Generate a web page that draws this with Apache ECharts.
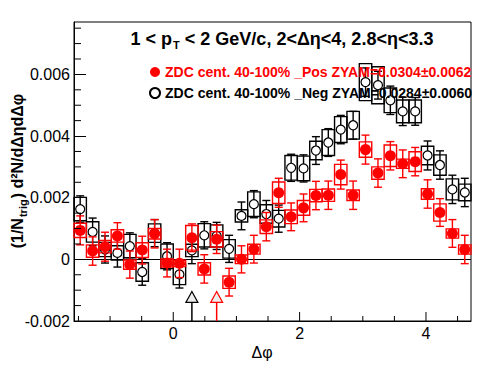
<!DOCTYPE html>
<html>
<head>
<meta charset="utf-8">
<script src="https://cdn.jsdelivr.net/npm/echarts@6/dist/echarts.min.js"></script>
<style>html,body{margin:0;padding:0;background:#fff;}#c{width:496px;height:374px;}</style>
</head>
<body>
<div id="c"></div>
<script>
// ---- data ----
const binCenters = [-1.473,-1.276,-1.080,-0.884,-0.687,-0.491,-0.295,-0.098,0.098,0.295,0.491,0.687,0.884,1.080,1.276,1.473,
                    1.669,1.866,2.062,2.258,2.454,2.651,2.847,3.043,3.240,3.436,3.632,3.829,4.025,4.221,4.418,4.614];
const binWidth = 0.19635;
const posValues = [0.00094,0.00027,0.00041,0.00076,-0.00017,0.00030,0.00083,-0.00012,-0.00013,0.00070,-0.00031,0.00065,-0.00074,0.00000,0.00033,0.00106,
                   0.00216,0.00138,0.00167,0.00207,0.00208,0.00275,0.00208,0.00356,0.00280,0.00336,0.00310,0.00317,0.00212,0.00152,0.00084,0.00032];
const posStat = [0.00047,0.00046,0.00047,0.00043,0.00044,0.00045,0.00046,0.00045,0.00046,0.00045,0.00046,0.00046,0.00045,0.00044,0.00045,0.00046,
                 0.00047,0.00045,0.00045,0.00046,0.00046,0.00047,0.00046,0.00047,0.00046,0.00046,0.00045,0.00046,0.00046,0.00045,0.00045,0.00046];
const posSys = [0.00023,0.00020,0.00020,0.00020,0.00015,0.00024,0.00017,0.00013,0.00010,0.00040,0.00020,0.00025,0.00020,0.00014,0.00016,0.00022,
                0.00035,0.00022,0.00024,0.00020,0.00020,0.00033,0.00017,0.00025,0.00020,0.00035,0.00015,0.00032,0.00017,0.00028,0.00015,0.00015];
const negValues = [0.00163,0.00089,0.00032,0.00021,0.00043,-0.00041,0.00085,0.00010,-0.00049,0.00029,0.00078,0.00076,0.00034,0.00141,0.00179,0.00147,
                   0.00132,0.00297,0.00295,0.00353,0.00379,0.00421,0.00435,0.00575,0.00565,0.00516,0.00480,0.00480,0.00337,0.00306,0.00227,0.00217];
const negStat = [0.00043,0.00045,0.00044,0.00046,0.00043,0.00043,0.00044,0.00044,0.00044,0.00043,0.00044,0.00044,0.00044,0.00045,0.00044,0.00044,
                 0.00044,0.00044,0.00044,0.00045,0.00045,0.00046,0.00045,0.00046,0.00045,0.00046,0.00046,0.00045,0.00047,0.00046,0.00046,0.00046];
const negSys = [0.00038,0.00033,0.00023,0.00023,0.00038,0.00030,0.00030,0.00040,0.00033,0.00020,0.00038,0.00036,0.00030,0.00020,0.00040,0.00030,
                0.00027,0.00040,0.00040,0.00030,0.00042,0.00042,0.00045,0.00060,0.00060,0.00040,0.00037,0.00037,0.00030,0.00033,0.00034,0.00027];
const posLabel = 'ZDC cent. 40-100% _Pos ZYAM=0.0304\u00b10.0062';
const negLabel = 'ZDC cent. 40-100% _Neg ZYAM=0.0284\u00b10.0060';
const arrowX = [0.295, 0.687];      // Neg, Pos
const arrowY = [-0.00122, -0.00122];
const xMajorTicks = [0, 2, 4];
const xTickLabels = ['0', '2', '4'];
const xMinorTicks = [-1.5,-1,-0.5,0.5,1,1.5,2.5,3,3.5,4.5];
const yMinorTicks = [-0.0015,-0.001,-0.0005,0.0005,0.001,0.0015,0.0025,0.003,0.0035,0.0045,0.005,0.0055,0.0065,0.007,0.0075];

// ---- chart ----
const XMIN = -Math.PI / 2, XMAX = 3 * Math.PI / 2, YMIN = -0.002, YMAX = 0.0077;
const FONT = '"Liberation Sans", Arial, Helvetica, sans-serif';
const RED = '#ff0000', BLACK = '#000000';

function boxRenderer(color) {
  return function (params, api) {
    const x = api.value(0), v = api.value(1), s = api.value(2);
    const a = api.coord([x - binWidth / 2, v + s]);
    const b = api.coord([x + binWidth / 2, v - s]);
    return { type: 'rect', shape: { x: a[0], y: a[1], width: b[0] - a[0], height: b[1] - a[1] },
             style: { fill: 'none', stroke: color, lineWidth: 1.4 } };
  };
}
function errRenderer(color) {
  return function (params, api) {
    const x = api.value(0), v = api.value(1), e = api.value(2);
    const t = api.coord([x, v + e]);
    const b = api.coord([x, v - e]);
    const cap = 4, st = { stroke: color, lineWidth: 1.4 };
    return { type: 'group', children: [
      { type: 'line', shape: { x1: t[0], y1: t[1], x2: b[0], y2: b[1] }, style: st },
      { type: 'line', shape: { x1: t[0] - cap, y1: t[1], x2: t[0] + cap, y2: t[1] }, style: st },
      { type: 'line', shape: { x1: b[0] - cap, y1: b[1], x2: b[0] + cap, y2: b[1] }, style: st }
    ]};
  };
}
function triples(vals, errs) { return binCenters.map((x, i) => [x, vals[i], errs[i]]); }

const arrowColors = [BLACK, RED];

const option = {
  animation: false,
  backgroundColor: '#fff',
  grid: { left: 74, right: 25, top: 22, bottom: 53, show: true, borderColor: '#000', borderWidth: 1, backgroundColor: 'transparent' },
  xAxis: { type: 'value', min: XMIN, max: XMAX,
    axisLine: { show: true, onZero: false, lineStyle: { color: '#000', width: 1 } },
    axisTick: { show: false }, axisLabel: { show: false }, splitLine: { show: false } },
  yAxis: { type: 'value', min: YMIN, max: YMAX, interval: 0.002,
    axisLine: { show: true, onZero: false, lineStyle: { color: '#000', width: 1 } },
    axisTick: { show: true, inside: true, length: 12, lineStyle: { color: '#000', width: 1 } },
    axisLabel: { show: true, margin: 4, showMaxLabel: false, color: '#000', fontSize: 16, fontFamily: FONT,
      formatter: v => String(+v.toFixed(4)) },
    splitLine: { show: false } },
  legend: {
    left: 144, top: 60, orient: 'vertical', itemGap: 7, itemWidth: 10, itemHeight: 10, selectedMode: false,
    textStyle: { fontSize: 14, fontWeight: 'bold', fontFamily: FONT },
    data: [
      { name: posLabel, icon: 'circle', textStyle: { color: RED } },
      { name: negLabel, icon: 'circle', textStyle: { color: BLACK } }
    ]
  },
  graphic: [
    { type: 'text', x: 282, y: 39, z: 100,
      style: { text: '{a|1 < p}{s|T}{a| < 2 GeV/c, 2<\u0394\u03b7<4, 2.8<\u03b7<3.3}', align: 'center', verticalAlign: 'middle',
        rich: { a: { fontSize: 18, fontWeight: 'bold', fontFamily: FONT, fill: '#000' },
                s: { fontSize: 11, fontWeight: 'bold', fontFamily: FONT, fill: '#000', padding: [12, 0, 0, 1] } } } },
    { type: 'text', x: 17, y: 171, rotation: Math.PI / 2, z: 100,
      style: { text: '{a|(1/N}{s|trig}{a|) d\u00b2N/d\u0394\u03b7d\u0394\u03c6}', align: 'center', verticalAlign: 'middle',
        rich: { a: { fontSize: 16, fontWeight: 'bold', fontFamily: FONT, fill: '#000' },
                s: { fontSize: 11, fontWeight: 'bold', fontFamily: FONT, fill: '#000', padding: [12, 1, 0, 1] } } } },
    { type: 'text', x: 262, y: 352, z: 100,
      style: { text: '\u0394\u03c6', align: 'center', verticalAlign: 'middle', fontSize: 16, fontFamily: FONT, fill: '#000' } }
  ],
  series: [
    { type: 'custom', name: 'negSys', z: 2, renderItem: boxRenderer(BLACK), encode: { x: 0, y: 1 }, data: triples(negValues, negSys) },
    { type: 'custom', name: 'negErr', z: 2, renderItem: errRenderer(BLACK), encode: { x: 0, y: 1 }, data: triples(negValues, negStat) },
    { type: 'scatter', name: negLabel, z: 3, symbol: 'circle', symbolSize: 9,
      itemStyle: { color: '#fff', borderColor: BLACK, borderWidth: 1.2, opacity: 1 },
      data: binCenters.map((x, i) => [x, negValues[i]]) },
    { type: 'custom', name: 'posSys', z: 4, renderItem: boxRenderer(RED), encode: { x: 0, y: 1 }, data: triples(posValues, posSys) },
    { type: 'custom', name: 'posErr', z: 4, renderItem: errRenderer(RED), encode: { x: 0, y: 1 }, data: triples(posValues, posStat) },
    { type: 'scatter', name: posLabel, z: 5, symbol: 'circle', symbolSize: 11,
      itemStyle: { color: RED, opacity: 1 },
      markLine: { silent: true, symbol: 'none', label: { show: false }, z: 1,
        lineStyle: { color: '#000', width: 1, type: 'solid' }, data: [{ yAxis: 0 }] },
      data: binCenters.map((x, i) => [x, posValues[i]]) },
    { type: 'custom', name: 'arrows', z: 6, encode: { x: 0, y: 1 },
      data: arrowX.map((x, i) => [x, arrowY[i]]),
      renderItem: function (params, api) {
        const p = api.coord([api.value(0), api.value(1)]);
        const b = api.coord([api.value(0), YMIN]);
        const c = arrowColors[params.dataIndex];
        return { type: 'group', children: [
          { type: 'line', shape: { x1: p[0], y1: p[1] + 5.5, x2: b[0], y2: b[1] }, style: { stroke: c, lineWidth: 1.5 } },
          { type: 'polygon', shape: { points: [[p[0], p[1] - 5.5], [p[0] - 6, p[1] + 5.5], [p[0] + 6, p[1] + 5.5]] },
            style: { fill: '#eeeeee', stroke: c, lineWidth: 1.2 } }
        ]};
      } },
    { type: 'custom', name: 'xTicks', z: 7, encode: { x: 0, y: 1 }, silent: true,
      data: xMajorTicks.map(v => [v, YMIN, 1]).concat(xMinorTicks.map(v => [v, YMIN, 0])),
      renderItem: function (params, api) {
        const p = api.coord([api.value(0), api.value(1)]);
        const major = api.value(2) === 1;
        const len = major ? 9 : 5;
        const ch = [{ type: 'line', shape: { x1: p[0], y1: p[1], x2: p[0], y2: p[1] - len }, style: { stroke: '#000', lineWidth: 1 } }];
        if (major) {
          ch.push({ type: 'text', x: p[0], y: p[1] + 4,
            style: { text: xTickLabels[params.dataIndex], align: 'center', verticalAlign: 'top', fontSize: 16, fontFamily: FONT, fill: '#000' } });
        }
        return { type: 'group', children: ch };
      } },
    { type: 'custom', name: 'yMinor', z: 7, encode: { x: 0, y: 1 }, silent: true,
      data: yMinorTicks.map(v => [XMIN, v]),
      renderItem: function (params, api) {
        const p = api.coord([api.value(0), api.value(1)]);
        return { type: 'line', shape: { x1: p[0], y1: p[1], x2: p[0] + 7, y2: p[1] }, style: { stroke: '#000', lineWidth: 1 } };
      } }
  ]
};
const chart = echarts.init(document.getElementById('c'), null, { renderer: 'svg' });
chart.setOption(option);
</script>
</body>
</html>
